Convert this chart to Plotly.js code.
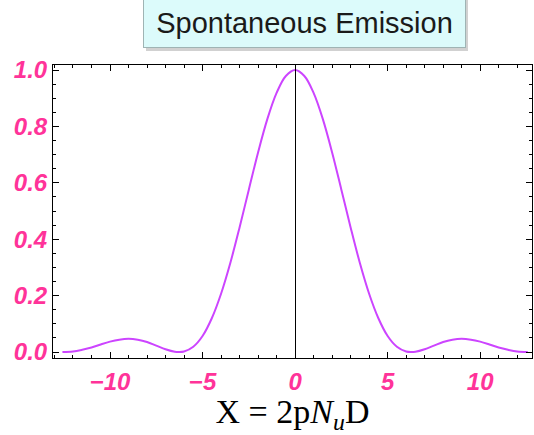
<!DOCTYPE html>
<html>
<head>
<meta charset="utf-8">
<script src="https://cdn.plot.ly/plotly-3.0.1.min.js"></script>
<style>html,body{margin:0;padding:0;background:#fff;}#chart{width:534px;height:435px;}</style>
</head>
<body>
<div id="chart"></div>
<script>
// values (curve is symmetric about x = 0)
const xPos = [0, 0.5, 1.0, 1.5, 2.0, 2.5, 3.0, 3.5, 4.0, 4.5, 5.0, 5.5, 6.0, 6.28, 6.5, 7.0, 7.5, 8.0, 8.5, 9.0, 9.5, 10.0, 10.5, 11.0, 11.5, 12.0, 12.57];
const yPos = [1.000, 0.979, 0.919, 0.826, 0.708, 0.576, 0.442, 0.316, 0.207, 0.120, 0.057, 0.019, 0.002, 0.000, 0.001, 0.010, 0.023, 0.036, 0.044, 0.047, 0.044, 0.037, 0.027, 0.016, 0.008, 0.002, 0.000];
const titleText = "Spontaneous Emission";
const xTitle = "X = 2p<i>N</i><sub><i>u</i></sub>D";

const xs = [], ys = [];
for (let i = xPos.length - 1; i > 0; i--) { xs.push(-xPos[i]); ys.push(yPos[i]); }
for (let i = 0; i < xPos.length; i++) { xs.push(xPos[i]); ys.push(yPos[i]); }

const pink = '#ff3399';
const tickFont = {family: 'Liberation Sans, Arial, sans-serif', size: 24, color: pink, weight: 'bold', style: 'italic'};

const trace = {
  x: xs, y: ys, type: 'scatter', mode: 'lines',
  line: {color: '#cc44ff', width: 2, shape: 'spline', smoothing: 1},
  hoverinfo: 'none'
};

const L = 53, R = 2, T = 65, B = 77;
const W = 534, H = 435;
const pw = W - L - R, ph = H - T - B;
const px = v => (v - L) / pw;
const py = v => (H - B - v) / ph;

const layout = {
  width: W, height: H,
  margin: {l: L, r: R, t: T, b: B, pad: 0},
  paper_bgcolor: '#ffffff', plot_bgcolor: '#ffffff',
  showlegend: false,
  xaxis: {
    range: [-13.08, 12.8], tickmode: 'array', tickvals: [-10, -5, 0, 5, 10],
    ticks: 'inside', ticklen: 6, tickcolor: '#000', tickwidth: 1,
    minor: {dtick: 1, ticks: 'inside', ticklen: 3, tickcolor: '#000', showgrid: false},
    showline: true, linecolor: '#000', linewidth: 1, mirror: 'allticks',
    showgrid: false, zeroline: true, zerolinecolor: '#000', zerolinewidth: 1,
    tickfont: tickFont, ticklabelstandoff: 2,
    title: {text: xTitle, font: {family: 'Liberation Serif, Times New Roman, serif', size: 34, color: '#000'}, standoff: 10}
  },
  yaxis: {
    range: [-0.021, 1.018], tickmode: 'array', tickvals: [0, 0.2, 0.4, 0.6, 0.8, 1.0],
    ticktext: ['0.0', '0.2', '0.4', '0.6', '0.8', '1.0'],
    ticks: 'inside', ticklen: 6, tickcolor: '#000', tickwidth: 1,
    minor: {dtick: 0.05, ticks: 'inside', ticklen: 3, tickcolor: '#000', showgrid: false},
    showline: true, linecolor: '#000', linewidth: 1, mirror: 'allticks',
    showgrid: false, zeroline: false,
    tickfont: tickFont
  },
  shapes: [
    {type: 'rect', xref: 'paper', yref: 'paper', x0: px(146), x1: px(468), y0: py(51), y1: py(-5),
     fillcolor: 'rgba(0,0,0,0.18)', line: {width: 0}, layer: 'above'}
  ],
  annotations: [
    {text: titleText, xref: 'paper', yref: 'paper', x: px(304.5), y: py(-2), xanchor: 'center', yanchor: 'top',
     showarrow: false, width: 321, height: 48, borderpad: 0, borderwidth: 1,
     bgcolor: '#dcfbfb', bordercolor: '#9fb4b4',
     font: {family: 'Liberation Sans Narrow, Liberation Sans, Arial, sans-serif', size: 29, color: '#1a1a1a'}}
  ]
};

Plotly.newPlot('chart', [trace], layout, {displayModeBar: false, staticPlot: true});
</script>
</body>
</html>
